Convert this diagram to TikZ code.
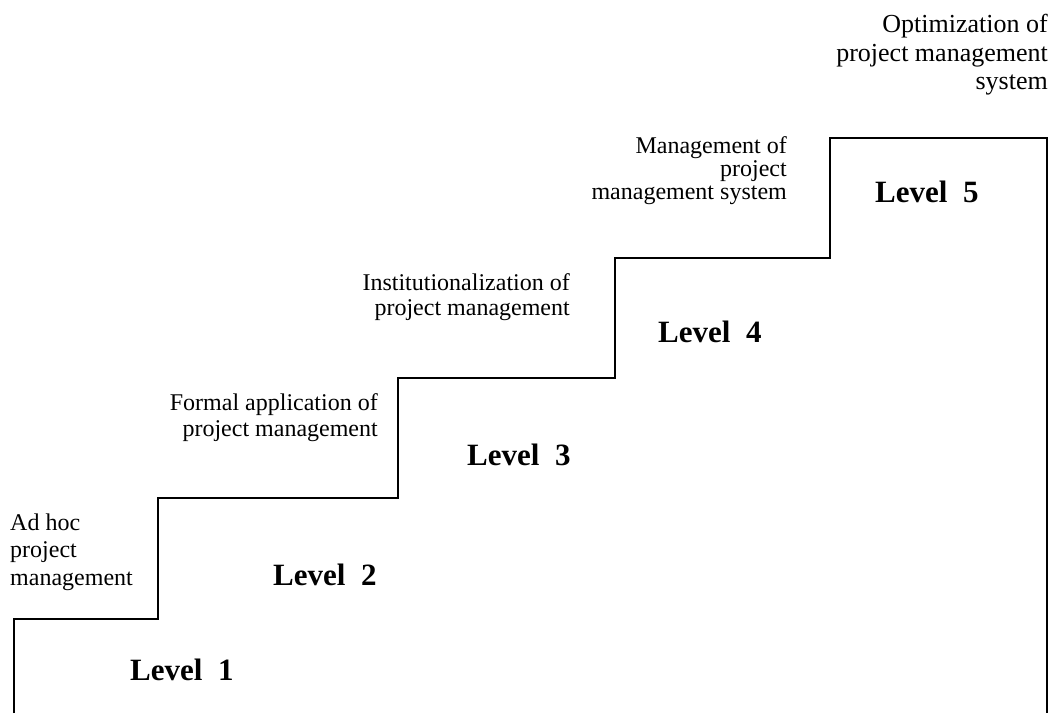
\documentclass[tikz,border=0pt]{standalone}
\usepackage{fontspec}
\setmainfont{Liberation Serif}
\usetikzlibrary{positioning}

\begin{document}
\begin{tikzpicture}[x=1pt,y=-1pt]
  % Styles for the staircase, the step notes and the level labels
  \tikzset{
    stairs/.style={line width=1.6pt, line join=miter},
    note/.style={inner sep=0pt, font=\fontsize{24}{26}\selectfont},
    level/.style={inner sep=0pt, anchor=base west, font=\fontsize{31}{34}\selectfont\bfseries}
  };

  \useasboundingbox (0,0) rectangle (1055,713);

  % Draw the staircase outline, from the bottom left up to level 5 and down again
  \draw[stairs] (14,713) -- (14,619) -- (158,619) -- (158,498) -- (398,498)
    -- (398,378) -- (615,378) -- (615,258) -- (830,258) -- (830,138)
    -- (1047,138) -- (1047,713);

  % Level labels on the steps
  \node[level] (lvl1) at (130,680) {Level~~1};
  \node[level] (lvl2) at (273,585) {Level~~2};
  \node[level] (lvl3) at (467,465) {Level~~3};
  \node[level] (lvl4) at (658,342) {Level~~4};
  \node[level] (lvl5) at (875,202) {Level~~5};

  % Notes above each step
  \node[note, anchor=north west, align=left, font=\fontsize{24}{27.5}\selectfont]
    (adhoc) at (10,513.5) {Ad hoc\\project\\management};
  \node[note, anchor=north east, align=right]
    (formal) at (378,393.5) {Formal application of\\project management};
  \node[note, anchor=north east, align=right, font=\fontsize{24}{25}\selectfont]
    (institution) at (570,273.5) {Institutionalization of\\project management};
  \node[note, anchor=north east, align=right, font=\fontsize{24}{23}\selectfont]
    (mgmtsys) at (787,136.5) {Management of\\project\\management system};
  \node[note, anchor=north east, align=right, font=\fontsize{26}{28.5}\selectfont]
    (optimize) at (1048,14) {Optimization of\\project management\\system};
\end{tikzpicture}
\end{document}
